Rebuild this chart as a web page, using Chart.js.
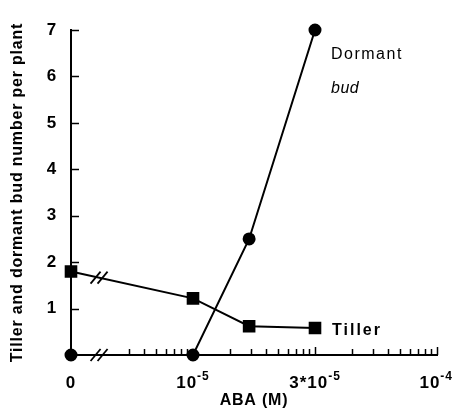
<!DOCTYPE html>
<html>
<head>
<meta charset="utf-8">
<script src="https://cdn.jsdelivr.net/npm/chart.js@4/dist/chart.umd.min.js"></script>
<style>
  html, body { margin: 0; padding: 0; background: #fff; }
  #wrap { width: 454px; height: 410px; }
</style>
</head>
<body>
<div id="wrap"><canvas id="abaChart"></canvas></div>
<script>
// axis positions: each labelled dose sits one step further along the drawn axis
const tickPos = [0, 1, 2, 3];
const tickBase = ['0', '10', '3*10', '10'];
const tickExp = ['', '-5', '-5', '-4'];
const doseX = [0, 1, 1.46, 2];
const dormantBud = [0, 0, 2.5, 7];
const tiller = [1.8, 1.22, 0.62, 0.58];

const FONT = '"Liberation Sans", Arial, sans-serif';

const toPoints = (ys) => ys.map((y, i) => ({x: doseX[i], y: y}));

// draws the inward tick marks, axis breaks, x labels and the series names
const decor = {
    id: 'decor',
    beforeDraw: (chart) => {
        chart.ctx.letterSpacing = '0.8px';
    },
    afterDatasetsDraw: (chart) => {
        const ctx = chart.ctx;
        const xs = chart.scales.x;
        const ys = chart.scales.y;
        const base = ys.getPixelForValue(0);
        const left = xs.getPixelForValue(0);
        ctx.save();
        ctx.strokeStyle = '#000';
        ctx.lineWidth = 1.5;

        // y ticks pointing into the plot
        for (let v = 1; v <= 7; v++) {
            const py = Math.round(ys.getPixelForValue(v)) + 0.5;
            ctx.beginPath();
            ctx.moveTo(left, py);
            ctx.lineTo(left + 8, py);
            ctx.stroke();
        }

        // log paper minor ticks on x
        const minor = [];
        for (let k = 3; k <= 9; k++) minor.push(Math.log10(k));
        for (let d = 1; d <= 2; d++) {
            for (let k = 2; k <= 10; k++) minor.push(d + Math.log10(k));
        }
        minor.forEach((m) => {
            const px = Math.round(xs.getPixelForValue(m)) + 0.5;
            const len = (Math.abs(m - Math.round(m)) < 0.001) ? 8 : 6;
            ctx.beginPath();
            ctx.moveTo(px, base);
            ctx.lineTo(px, base - len);
            ctx.stroke();
        });

        // break marks on the axis and on the tiller line
        const brk = (cx, cy) => {
            ctx.lineWidth = 1.8;
            [-3.5, 3.5].forEach((o) => {
                ctx.beginPath();
                ctx.moveTo(cx + o - 5, cy + 6);
                ctx.lineTo(cx + o + 5, cy - 6);
                ctx.stroke();
            });
        };
        const bx = xs.getPixelForValue(0.23);
        brk(bx, base);
        const tp = chart.getDatasetMeta(1).data;
        const f = (bx - tp[0].x) / (tp[1].x - tp[0].x);
        brk(bx, tp[0].y + f * (tp[1].y - tp[0].y));

        // x tick labels with raised exponents
        ctx.fillStyle = '#000';
        ctx.textBaseline = 'alphabetic';
        ctx.textAlign = 'left';
        ctx.letterSpacing = '1px';
        const ly = base + 33;
        tickPos.forEach((p, i) => {
            ctx.font = 'bold 17px ' + FONT;
            const w1 = ctx.measureText(tickBase[i]).width;
            ctx.font = 'bold 12px ' + FONT;
            const w2 = tickExp[i] ? ctx.measureText(tickExp[i]).width : 0;
            let sx = xs.getPixelForValue(p) - (w1 + w2) / 2;
            if (sx + w1 + w2 > chart.width - 1) sx = chart.width - 1 - w1 - w2;
            ctx.font = 'bold 17px ' + FONT;
            ctx.fillText(tickBase[i], sx, ly);
            if (tickExp[i]) {
                ctx.font = 'bold 12px ' + FONT;
                ctx.fillText(tickExp[i], sx + w1, ly - 8);
            }
        });

        // series names
        ctx.textBaseline = 'middle';
        ctx.letterSpacing = '1.5px';
        ctx.font = '16px ' + FONT;
        ctx.fillText('Dormant', 331, 55);
        ctx.font = 'italic 16px ' + FONT;
        ctx.letterSpacing = '0.5px';
        ctx.fillText('bud', 331, 89);
        ctx.font = 'bold 16px ' + FONT;
        ctx.letterSpacing = '2px';
        ctx.fillText('Tiller', 332, 331);
        ctx.restore();
    }
};

const abaChart = new Chart(document.getElementById('abaChart'), {
    type: 'line',
    data: {
        datasets: [{
            label: 'Dormant bud',
            data: toPoints(dormantBud),
            borderColor: '#000',
            backgroundColor: '#000',
            borderWidth: 2,
            pointStyle: 'circle',
            pointRadius: 5.5,
            clip: false
        },
        {
            label: 'Tiller',
            data: toPoints(tiller),
            borderColor: '#000',
            backgroundColor: '#000',
            borderWidth: 2,
            pointStyle: 'rect',
            pointRadius: 7.5,
            clip: false
        }]
    },
    plugins: [decor],
    options: {
        responsive: true,
        maintainAspectRatio: false,
        animation: false,
        layout: { padding: { top: 30, right: 17, left: 0, bottom: 0 } },
        plugins: {
            legend: { display: false },
            tooltip: { enabled: false }
        },
        scales: {
            x: {
                type: 'linear',
                min: 0,
                max: 3,
                afterBuildTicks: (scale) => {
                    scale.ticks = tickPos.map((v) => ({value: v}));
                },
                afterFit: (scale) => {
                    scale.height = 55;
                    scale.paddingLeft = 0;
                    scale.paddingRight = 0;
                },
                grid: { display: true, drawOnChartArea: false, drawTicks: false },
                border: { display: true, color: '#000', width: 2 },
                ticks: { display: false },
                title: {
                    display: true,
                    text: 'ABA (M)',
                    color: '#000',
                    padding: { top: 0, bottom: 0 },
                    font: { family: FONT, size: 16, weight: 'bold' }
                }
            },
            y: {
                min: 0,
                max: 7,
                afterFit: (scale) => { scale.width = 71; },
                grid: { display: true, drawOnChartArea: false, drawTicks: false },
                border: { display: true, color: '#000', width: 2 },
                ticks: {
                    stepSize: 1,
                    color: '#000',
                    padding: 14,
                    font: { family: FONT, size: 17, weight: 'bold' },
                    callback: (v) => (v === 0 ? '' : v)
                },
                title: {
                    display: true,
                    text: 'Tiller and dormant bud number per plant',
                    color: '#000',
                    padding: { top: 8, bottom: 0 },
                    font: { family: FONT, size: 16, weight: 'bold' }
                }
            }
        }
    }
});
</script>
</body>
</html>
